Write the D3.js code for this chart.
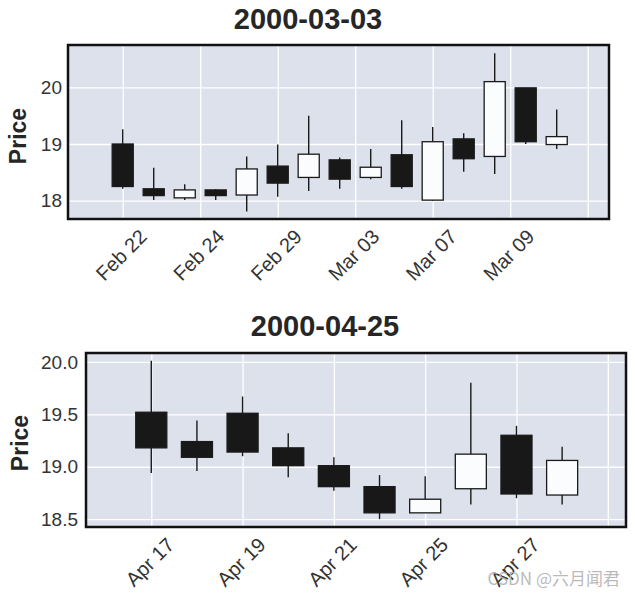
<!DOCTYPE html>
<html>
<head>
<meta charset="utf-8">
<script src="https://cdn.jsdelivr.net/npm/d3@7/dist/d3.min.js"></script>
<style>
  html, body { margin: 0; padding: 0; background: #ffffff; }
  svg { display: block; font-family: "Liberation Sans", Arial, sans-serif; }
</style>
</head>
<body>
<svg id="chart" width="635" height="597"></svg>
<script>
// ---- Panel 1 data (2000-03-03) ----
const dates1 = ["Feb 22","Feb 23","Feb 24","Feb 25","Feb 28","Feb 29","Mar 01","Mar 02","Mar 03","Mar 06","Mar 07","Mar 08","Mar 09","Mar 10","Mar 13"];
const open1  = [19.00, 18.21, 18.05, 18.19, 18.10, 18.61, 18.41, 18.72, 18.41, 18.81, 18.01, 19.09, 18.78, 19.99, 18.99];
const high1  = [19.26, 18.58, 18.29, 18.20, 18.78, 18.99, 19.50, 18.76, 18.91, 19.42, 19.30, 19.19, 20.60, 19.99, 19.61];
const low1   = [18.21, 18.01, 18.01, 18.01, 17.81, 18.07, 18.17, 18.21, 18.38, 18.21, 18.00, 18.51, 18.47, 19.00, 18.91];
const close1 = [18.25, 18.09, 18.19, 18.09, 18.56, 18.31, 18.82, 18.38, 18.59, 18.25, 19.04, 18.74, 20.10, 19.04, 19.13];
const xTicks1 = [0, 2.5, 5, 7.5, 10, 12.5, 15];
const xTickLabels1 = ["Feb 22", "Feb 24", "Feb 29", "Mar 03", "Mar 07", "Mar 09", ""];
const yTicks1 = [18, 19, 20];
const yTickLabels1 = ["18", "19", "20"];
const title1 = "2000-03-03";

// ---- Panel 2 data (2000-04-25) ----
const dates2 = ["Apr 17","Apr 18","Apr 19","Apr 20","Apr 21","Apr 24","Apr 25","Apr 26","Apr 27","Apr 28"];
const open2  = [19.52, 19.24, 19.51, 19.18, 19.01, 18.81, 18.56, 18.79, 19.30, 18.73];
const high2  = [20.01, 19.44, 19.67, 19.32, 19.09, 18.92, 18.91, 19.80, 19.39, 19.19];
const low2   = [18.94, 18.96, 19.10, 18.90, 18.77, 18.50, 18.56, 18.64, 18.70, 18.64];
const close2 = [19.18, 19.09, 19.14, 19.01, 18.81, 18.56, 18.69, 19.12, 18.74, 19.06];
const xTicks2 = [0, 2, 4, 6, 8, 10];
const xTickLabels2 = ["Apr 17", "Apr 19", "Apr 21", "Apr 25", "Apr 27", ""];
const yTicks2 = [18.5, 19.0, 19.5, 20.0];
const yTickLabels2 = ["18.5", "19.0", "19.5", "20.0"];
const title2 = "2000-04-25";

const yLabel = "Price";
const watermark = "CSDN @六月闻君";

const svg = d3.select("#chart");

function drawPanel(cfg) {
  const g = svg.append("g");
  const x = d3.scaleLinear().domain(cfg.xDomain).range([cfg.left, cfg.right]);
  const y = d3.scaleLinear().domain(cfg.yDomain).range([cfg.bottom, cfg.top]);
  const w = cfg.right - cfg.left, h = cfg.bottom - cfg.top;

  // background
  g.append("rect").attr("x", cfg.left).attr("y", cfg.top)
    .attr("width", w).attr("height", h).attr("fill", "#dce1ec");

  // grid lines
  const gx = g.append("g").attr("transform", `translate(0,${cfg.bottom})`)
    .call(d3.axisBottom(x).tickValues(cfg.xTicks).tickSize(-h).tickFormat(""));
  gx.select(".domain").remove();
  gx.selectAll("line").attr("stroke", "#ffffff").attr("stroke-width", 1.3);

  const gy = g.append("g").attr("transform", `translate(${cfg.left},0)`)
    .call(d3.axisLeft(y).tickValues(cfg.yTicks).tickSize(-w).tickFormat(""));
  gy.select(".domain").remove();
  gy.selectAll("line").attr("stroke", "#ffffff").attr("stroke-width", 1.3);

  // candles
  const idx = d3.range(cfg.open.length);
  const bw = x(0.68) - x(0);
  const c = g.append("g");
  c.selectAll("line.wick").data(idx).join("line")
    .attr("class", "wick")
    .attr("x1", i => x(i)).attr("x2", i => x(i))
    .attr("y1", i => y(cfg.high[i])).attr("y2", i => y(cfg.low[i]))
    .attr("stroke", "#1a1a1a").attr("stroke-width", 1.4);
  c.selectAll("rect.body").data(idx).join("rect")
    .attr("class", "body")
    .attr("x", i => x(i) - bw / 2)
    .attr("width", bw)
    .attr("y", i => y(Math.max(cfg.open[i], cfg.close[i])))
    .attr("height", i => Math.max(1, Math.abs(y(cfg.open[i]) - y(cfg.close[i]))))
    .attr("fill", i => cfg.close[i] >= cfg.open[i] ? "#fbfcfe" : "#181818")
    .attr("stroke", "#1a1a1a").attr("stroke-width", 1.3);

  // frame
  g.append("rect").attr("x", cfg.left).attr("y", cfg.top)
    .attr("width", w).attr("height", h)
    .attr("fill", "none").attr("stroke", "#111111").attr("stroke-width", 2.5);

  // y tick labels
  const ay = g.append("g").attr("transform", `translate(${cfg.left},0)`)
    .call(d3.axisLeft(y).tickValues(cfg.yTicks).tickSize(0).tickPadding(cfg.yPad)
      .tickFormat((d, i) => cfg.yTickLabels[i]));
  ay.select(".domain").remove();
  ay.selectAll("text").attr("font-size", 19).attr("fill", "#333333")
    .attr("font-family", "Liberation Sans, Arial, sans-serif");

  // x tick labels (rotated 45°, centered under tick)
  const ax = g.append("g").attr("transform", `translate(0,${cfg.bottom})`)
    .call(d3.axisBottom(x).tickValues(cfg.xTicks).tickSize(0)
      .tickFormat((d, i) => cfg.xTickLabels[i]));
  ax.select(".domain").remove();
  ax.selectAll("text")
    .attr("font-size", 20).attr("fill", "#333333")
    .attr("font-family", "Liberation Sans, Arial, sans-serif")
    .attr("text-anchor", "middle")
    .attr("dy", null)
    .attr("y", null)
    .attr("dominant-baseline", "central")
    .attr("transform", `translate(-2,${cfg.xLabelOffset}) rotate(-45)`);

  // title
  g.append("text").attr("x", cfg.titleX).attr("y", cfg.titleY)
    .attr("text-anchor", "middle").attr("font-size", 29).attr("font-weight", "bold")
    .attr("fill", "#262626").text(cfg.title);

  // y label
  g.append("text")
    .attr("transform", `translate(${cfg.yLabelX},${cfg.yLabelY}) rotate(-90)`)
    .attr("text-anchor", "middle").attr("font-size", 23).attr("font-weight", "bold")
    .attr("fill", "#262626").text(yLabel);
}

drawPanel({
  open: open1, high: high1, low: low1, close: close1,
  xDomain: [-1.765, 15.687], yDomain: [17.677, 20.746],
  left: 68, right: 609, top: 45, bottom: 219,
  xTicks: xTicks1, xTickLabels: xTickLabels1,
  yTicks: yTicks1, yTickLabels: yTickLabels1, yPad: 6,
  xLabelOffset: 36,
  title: title1, titleX: 308, titleY: 28.5,
  yLabelX: 26, yLabelY: 136
});

drawPanel({
  open: open2, high: high2, low: low2, close: close2,
  xDomain: [-1.430, 10.399], yDomain: [18.425, 20.085],
  left: 86, right: 626, top: 353, bottom: 527,
  xTicks: xTicks2, xTickLabels: xTickLabels2,
  yTicks: yTicks2, yTickLabels: yTickLabels2, yPad: 8,
  xLabelOffset: 35,
  title: title2, titleX: 325, titleY: 335.5,
  yLabelX: 28, yLabelY: 443
});

// watermark
svg.append("text").attr("x", 620).attr("y", 585).attr("text-anchor", "end")
  .attr("font-size", 17).attr("fill", "#b5b5b5").attr("fill-opacity", 0.95)
  .attr("font-family", "'Noto Sans CJK SC', 'Noto Sans', sans-serif")
  .text(watermark);
</script>
</body>
</html>
